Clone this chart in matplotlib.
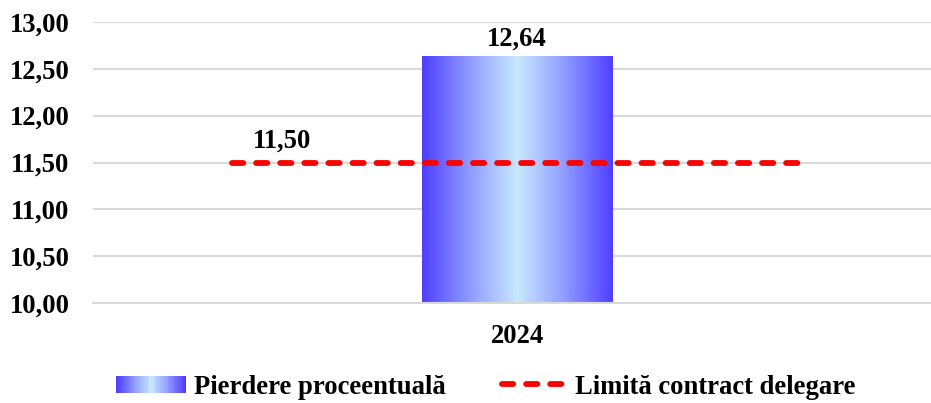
import numpy as np
import matplotlib
matplotlib.use("Agg")
import matplotlib.pyplot as plt
from matplotlib.colors import LinearSegmentedColormap
from matplotlib.patches import Rectangle
from matplotlib.legend_handler import HandlerBase
from matplotlib.lines import Line2D

categories = ["2024"]
pierdere = [12.64]
limita = 11.50
yticks = [10.0, 10.5, 11.0, 11.5, 12.0, 12.5, 13.0]

plt.rcParams["font.family"] = ["Liberation Serif", "DejaVu Serif"]
plt.rcParams["font.weight"] = "bold"
FS = 19.2

grad = LinearSegmentedColormap.from_list(
    "blu", ["#4f3fff", "#8f9bff", "#c8e9ff", "#8f9bff", "#4f3fff"])

RED = "#ff0000"
LW = 4.2
DASH = (1.93, 2.2)


def fmt(v):
    return f"{v:.2f}".replace(".", ",")


class GradHandler(HandlerBase):
    def create_artists(self, legend, orig, xd, yd, w, h, fontsize, trans):
        n = 40
        out = []
        for i in range(n):
            r = Rectangle((-xd + w * i / n, -yd), w / n + 0.2, h,
                          facecolor=grad(i / (n - 1)), edgecolor="none", transform=trans)
            out.append(r)
        return out


class DashHandler(HandlerBase):
    def create_artists(self, legend, orig, xd, yd, w, h, fontsize, trans):
        # three dashes, slightly shorter than the handle
        x0 = -xd + w * 0.06
        ln = Line2D([x0, -xd + w], [-yd + h / 2] * 2, color=RED, lw=LW,
                    dashes=DASH, dash_capstyle="round", transform=trans)
        return [ln]


fig = plt.figure(figsize=(9.31, 4.03), dpi=100)
ax = fig.add_axes([93 / 931, 1 - 303 / 403, 848 / 931, 281 / 403])

x = np.arange(len(categories))
bw = 0.225
bars = ax.bar(x, pierdere, width=bw, bottom=0, color="none", zorder=2)
ax.set_ylim(10, 13)

# gradient fill clipped to each bar
for b in bars:
    x0, w = b.get_x(), b.get_width()
    img = ax.imshow(np.linspace(0, 1, 256)[None, :], cmap=grad, aspect="auto",
                    extent=[x0, x0 + w, 10, b.get_height()], zorder=2)
    img.set_clip_path(b)
    ax.text(x0 + w / 2, b.get_height() + 0.04, fmt(b.get_height()),
            ha="center", va="bottom", fontsize=FS, fontweight="bold")
ax.set_xlim(-0.5, 0.5)

half = 0.336
ax.plot([x[0] - half, x[0] + half], [limita, limita], color=RED, lw=LW,
        dashes=DASH, dash_capstyle="round", zorder=3)
ax.text(x[0] - 0.277, limita + 0.09, fmt(limita), ha="center", va="bottom",
        fontsize=FS, fontweight="bold")

ax.set_yticks(yticks)
ax.set_yticklabels([fmt(v) for v in yticks], fontsize=FS, fontweight="bold")
ax.set_xticks(x)
ax.set_xticklabels(categories, fontsize=FS, fontweight="bold")
ax.tick_params(axis="y", length=0, pad=17)
ax.tick_params(axis="x", length=0, pad=15)
ax.grid(axis="y", color="#d9d9d9", lw=1.5, zorder=0)
ax.set_axisbelow(True)
for s in ["top", "right", "left"]:
    ax.spines[s].set_visible(False)
ax.spines["bottom"].set_color("#d9d9d9")
ax.spines["bottom"].set_linewidth(1.5)

h_bar = Rectangle((0, 0), 1, 1)
h_line = Line2D([], [])
fig.legend([h_bar, h_line], ["Pierdere proceentuală", "Limită contract delegare"],
           handler_map={Rectangle: GradHandler(), Line2D: DashHandler()}, loc="center",
           bbox_to_anchor=(486 / 931, 1 - 387 / 403), ncol=2, frameon=False,
           fontsize=FS, handlelength=2.6, handleheight=0.6, handletextpad=0.3,
           columnspacing=1.96)

fig.savefig("out.png", dpi=100)
